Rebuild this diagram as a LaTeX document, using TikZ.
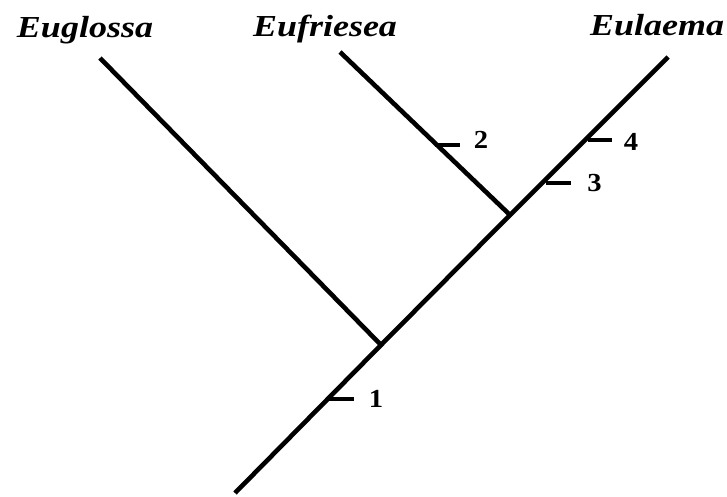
\documentclass[tikz,border=0pt]{standalone}
\usepackage{fontspec}
\setmainfont{Liberation Serif}
\begin{document}
\begin{tikzpicture}[x=1pt,y=-1pt,
  branch/.style={line width=4.6pt,line cap=butt},
  tick/.style={line width=4.6pt},
  taxon/.style={font=\fontsize{30.5}{30.5}\selectfont\bfseries\itshape,anchor=base,inner sep=0pt,xscale=1.18,transform shape},
  num/.style={font=\fontsize{26}{26}\selectfont\bfseries,anchor=base,inner sep=0pt,xscale=1.1,transform shape}]
\useasboundingbox (0,0) rectangle (727,497);
\coordinate (root) at (235,493);
\coordinate (A) at (381,345);
\coordinate (B) at (510,215);
\coordinate (eg) at (100,58);
\coordinate (ef) at (340,52);
\coordinate (el) at (668,57);
\draw[branch] (root) -- (A) -- (B) -- (el);
\draw[branch] (A) -- (eg);
\draw[branch] (B) -- (ef);
\node[taxon] (tEg) at (85,37.5) {Euglossa};
\node[taxon] (tEf) at (325,37) {Eufriesea};
\node[taxon] (tEl) at (657,36) {Eulaema};
\coordinate (t1a) at (329,399); \coordinate (t1b) at (354,399);
\coordinate (t2a) at (435,145); \coordinate (t2b) at (460,145);
\coordinate (t3a) at (546,183); \coordinate (t3b) at (571,183);
\coordinate (t4a) at (588,140); \coordinate (t4b) at (612,140);
\draw[tick] (t1a) -- (t1b);
\draw[tick] (t2a) -- (t2b);
\draw[tick] (t3a) -- (t3b);
\draw[tick] (t4a) -- (t4b);
\node[num] (n1) at (376,407) {1};
\node[num] (n2) at (481,149) {2};
\node[num] (n3) at (594.5,191) {3};
\node[num] (n4) at (631,150) {4};
\end{tikzpicture}
\end{document}
